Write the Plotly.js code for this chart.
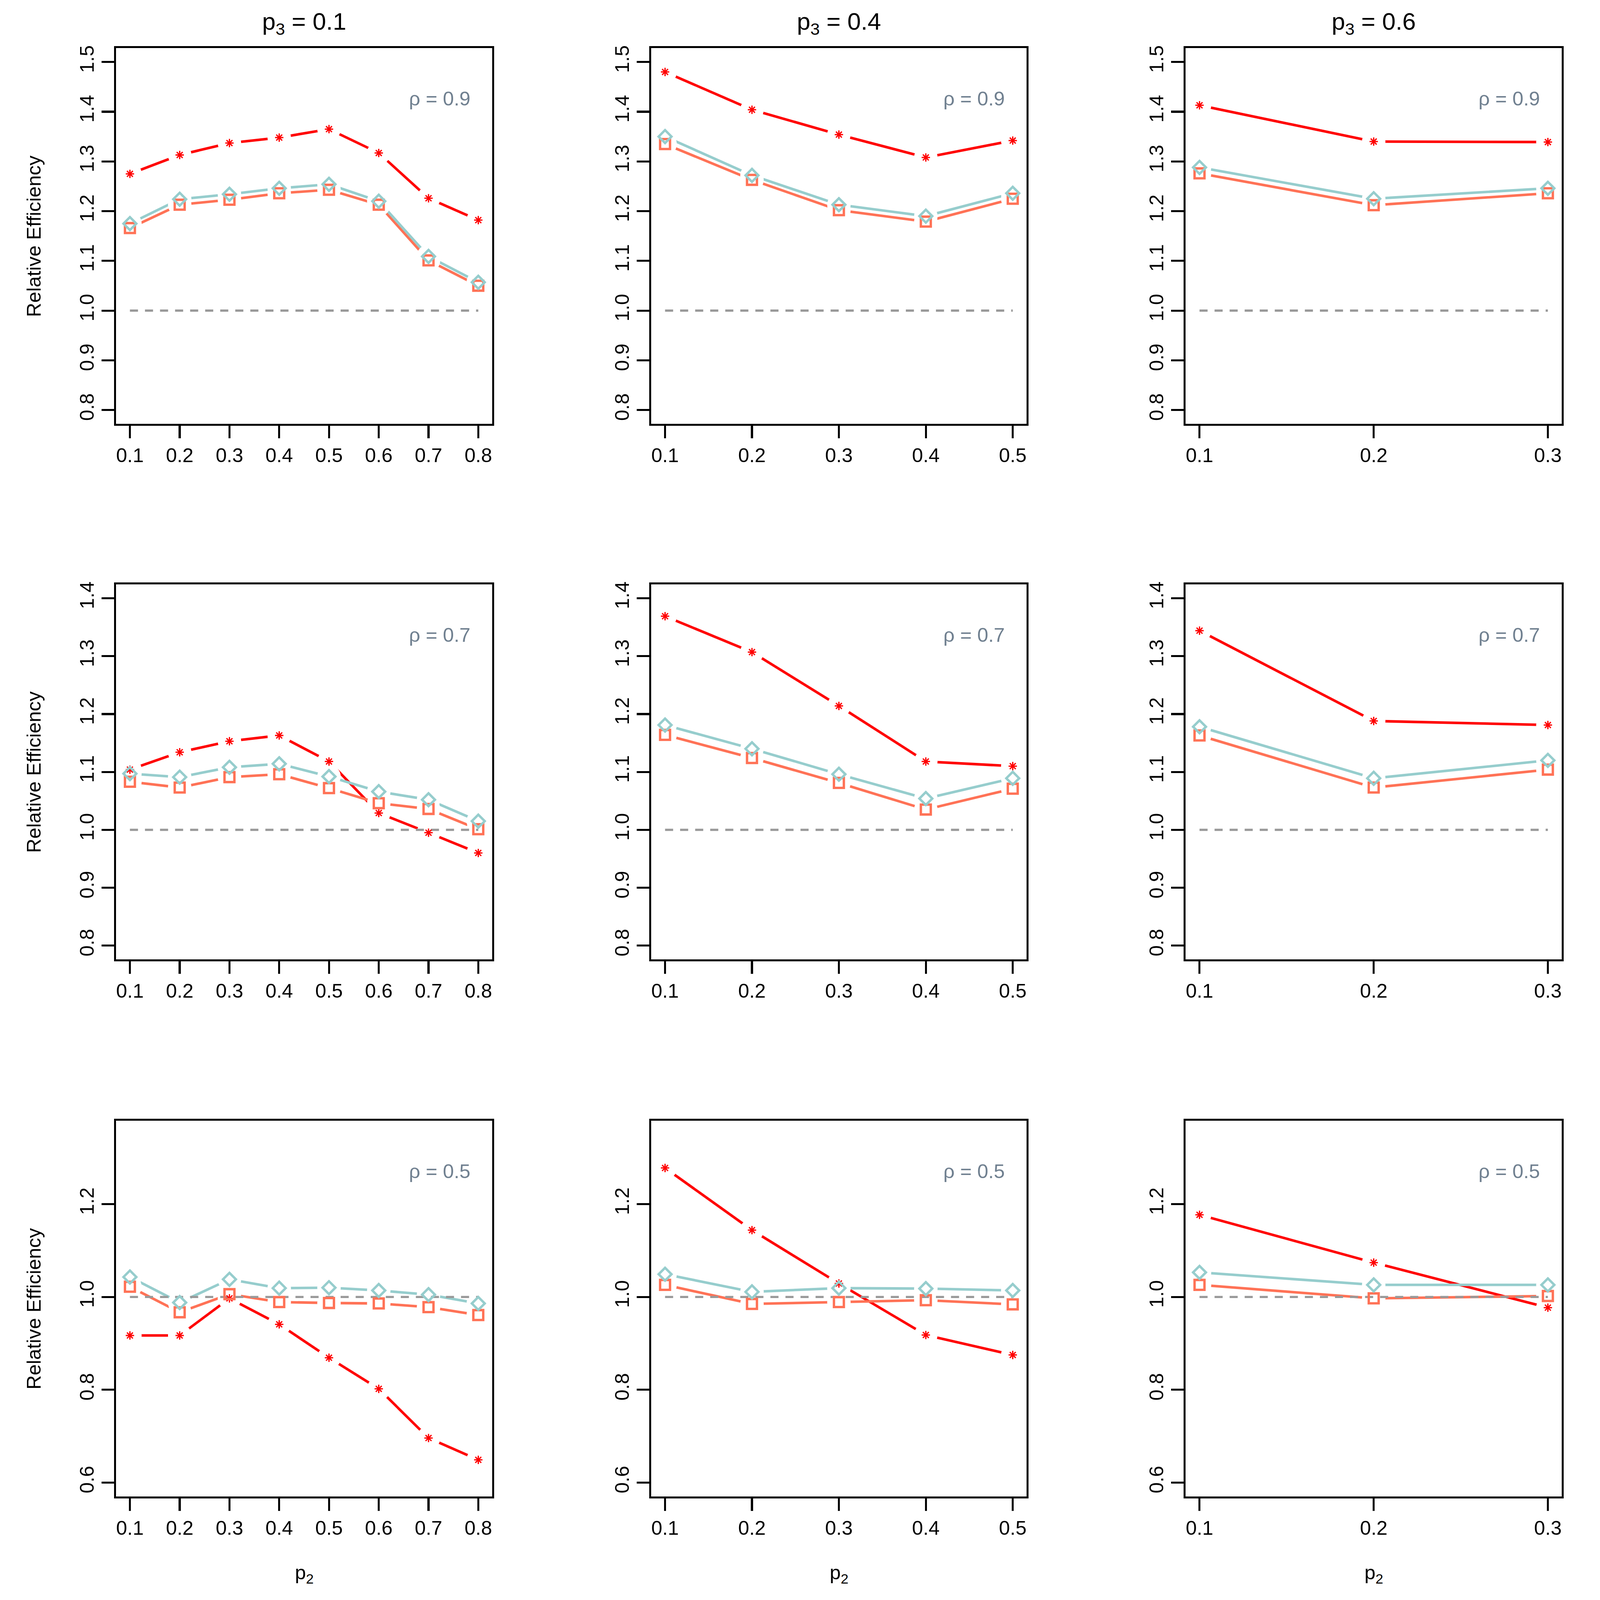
<!DOCTYPE html>
<html>
<head>
<meta charset="utf-8">
<script src="https://cdn.plot.ly/plotly-3.0.1.min.js"></script>
<style>html,body{margin:0;padding:0;background:#fff;overflow:hidden;}#chart{margin:0;padding:0;}</style>
</head>
<body>
<div id="chart"></div>
<script>
// ---- data ----
const p2_p3_01 = [0.1, 0.2, 0.3, 0.4, 0.5, 0.6, 0.7, 0.8];
const p2_p3_04 = [0.1, 0.2, 0.3, 0.4, 0.5];
const p2_p3_06 = [0.1, 0.2, 0.3];
const p3_labels = ['0.1', '0.4', '0.6'];
const rho_labels = ['0.9', '0.7', '0.5'];

// rho = 0.9
const star_r09_p01    = [1.275, 1.313, 1.337, 1.348, 1.365, 1.317, 1.226, 1.182];
const diamond_r09_p01 = [1.175, 1.224, 1.234, 1.246, 1.254, 1.220, 1.109, 1.057];
const square_r09_p01  = [1.166, 1.213, 1.223, 1.236, 1.243, 1.213, 1.101, 1.050];
const star_r09_p04    = [1.480, 1.404, 1.354, 1.308, 1.342];
const diamond_r09_p04 = [1.350, 1.272, 1.213, 1.190, 1.236];
const square_r09_p04  = [1.335, 1.263, 1.202, 1.179, 1.225];
const star_r09_p06    = [1.413, 1.340, 1.339];
const diamond_r09_p06 = [1.288, 1.225, 1.246];
const square_r09_p06  = [1.276, 1.212, 1.236];
// rho = 0.7
const star_r07_p01    = [1.104, 1.134, 1.153, 1.163, 1.118, 1.029, 0.995, 0.960];
const diamond_r07_p01 = [1.097, 1.091, 1.108, 1.114, 1.092, 1.066, 1.052, 1.015];
const square_r07_p01  = [1.083, 1.073, 1.091, 1.096, 1.072, 1.046, 1.036, 1.001];
const star_r07_p04    = [1.369, 1.307, 1.214, 1.118, 1.110];
const diamond_r07_p04 = [1.181, 1.140, 1.096, 1.054, 1.089];
const square_r07_p04  = [1.164, 1.124, 1.081, 1.035, 1.071];
const star_r07_p06    = [1.344, 1.188, 1.181];
const diamond_r07_p06 = [1.178, 1.089, 1.120];
const square_r07_p06  = [1.163, 1.073, 1.104];
// rho = 0.5
const star_r05_p01    = [0.917, 0.917, 0.997, 0.941, 0.869, 0.802, 0.696, 0.649];
const diamond_r05_p01 = [1.043, 0.988, 1.038, 1.019, 1.020, 1.014, 1.005, 0.986];
const square_r05_p01  = [1.022, 0.967, 1.006, 0.989, 0.987, 0.986, 0.978, 0.961];
const star_r05_p04    = [1.278, 1.144, 1.029, 0.918, 0.875];
const diamond_r05_p04 = [1.049, 1.011, 1.019, 1.018, 1.014];
const square_r05_p04  = [1.026, 0.985, 0.989, 0.993, 0.984];
const star_r05_p06    = [1.177, 1.074, 0.977];
const diamond_r05_p06 = [1.053, 1.026, 1.026];
const square_r05_p06  = [1.026, 0.997, 1.002];

const yticks_r09 = [0.8, 0.9, 1.0, 1.1, 1.2, 1.3, 1.4, 1.5];
const yticks_r07 = [0.8, 0.9, 1.0, 1.1, 1.2, 1.3, 1.4];
const yticks_r05 = [0.6, 0.8, 1.0, 1.2];
const reference_level = 1.0;

// ---- layout geometry / styles ----
const W0 = 4342, H0 = 4359;
const vw = window.innerWidth || W0, vh = window.innerHeight || H0;
const k = Math.min(1, vw / W0, vh / H0);
const W = Math.floor(W0 * k), H = Math.floor(H0 * k);
const px = v => v * k;

const FONT = 'Liberation Sans, Arial, Helvetica, sans-serif';
const RED = '#FF0000', CORAL = '#FF7256', TEAL = '#96CDCD', GREY = '#999999', SLATE = '#708090';
const colPx = [[316, 1341], [1774, 2797], [3230, 4255]];
const rowPx = [[131, 1155], [1592, 2614], [3053, 4077]];
const xRanges = [[0.072, 0.828], [0.084, 0.516], [0.092, 0.308]];
const yRanges = [[0.772, 1.528], [0.776, 1.424], [0.57, 1.38]];

const xs = [p2_p3_01, p2_p3_04, p2_p3_06];
const yt = [yticks_r09, yticks_r07, yticks_r05];
const stars = [[star_r09_p01, star_r09_p04, star_r09_p06], [star_r07_p01, star_r07_p04, star_r07_p06], [star_r05_p01, star_r05_p04, star_r05_p06]];
const squares = [[square_r09_p01, square_r09_p04, square_r09_p06], [square_r07_p01, square_r07_p04, square_r07_p06], [square_r05_p01, square_r05_p04, square_r05_p06]];
const diamonds = [[diamond_r09_p01, diamond_r09_p04, diamond_r09_p06], [diamond_r07_p01, diamond_r07_p04, diamond_r07_p06], [diamond_r05_p01, diamond_r05_p04, diamond_r05_p06]];

const traces = [];
const layout = {
  width: W, height: H,
  margin: {l: 0, r: 0, t: 0, b: 0, pad: 0},
  paper_bgcolor: '#ffffff', plot_bgcolor: '#ffffff',
  showlegend: false,
  font: {family: FONT, color: '#000000', size: px(54)},
  annotations: []
};

function axBase() {
  return {
    ticks: 'outside', ticklen: px(34), tickwidth: px(5.5), tickcolor: '#000000',
    showline: true, linewidth: px(5.5), linecolor: '#000000', mirror: true,
    showgrid: false, zeroline: false, fixedrange: true,
    tickfont: {family: FONT, size: px(54), color: '#000000'}
  };
}

for (let r = 0; r < 3; r++) {
  for (let c = 0; c < 3; c++) {
    const idx = r * 3 + c + 1;
    const xa = idx === 1 ? 'x' : 'x' + idx;
    const ya = idx === 1 ? 'y' : 'y' + idx;
    const xk = idx === 1 ? 'xaxis' : 'xaxis' + idx;
    const yk = idx === 1 ? 'yaxis' : 'yaxis' + idx;
    const x = xs[c];
    const st = stars[r][c], sq = squares[r][c], dm = diamonds[r][c];

    const xax = axBase();
    xax.domain = [colPx[c][0] / W0, colPx[c][1] / W0];
    xax.range = xRanges[c];
    xax.tickvals = x;
    xax.ticktext = x.map(v => v.toFixed(1));
    xax.anchor = ya;
    xax.ticklabelstandoff = px(50);
    const yax = axBase();
    yax.domain = [1 - rowPx[r][1] / H0, 1 - rowPx[r][0] / H0];
    yax.range = yRanges[r];
    yax.tickvals = yt[r];
    yax.ticktext = yt[r].map(v => v.toFixed(1));
    yax.tickangle = -90;
    yax.anchor = xa;
    yax.ticklabelstandoff = px(36);
    layout[xk] = xax;
    layout[yk] = yax;

    const base = {xaxis: xa, yaxis: ya, hoverinfo: 'skip'};
    // connecting lines
    traces.push(Object.assign({x: x, y: st, mode: 'lines', line: {color: RED, width: px(7)}}, base));
    traces.push(Object.assign({x: x, y: sq, mode: 'lines', line: {color: CORAL, width: px(7)}}, base));
    traces.push(Object.assign({x: x, y: dm, mode: 'lines', line: {color: TEAL, width: px(7)}}, base));
    // gaps around points (type = "b" look)
    traces.push(Object.assign({x: x.concat(x, x), y: st.concat(sq, dm), mode: 'markers',
      marker: {symbol: 'circle', size: px(64), color: '#ffffff', line: {width: 0}}}, base));
    // reference line
    traces.push(Object.assign({x: x, y: x.map(() => reference_level), mode: 'lines',
      line: {color: GREY, width: px(6), dash: px(22) + 'px,' + px(19) + 'px'}}, base));
    // point symbols
    traces.push(Object.assign({x: x, y: st, mode: 'markers',
      marker: {symbol: 'asterisk-open', size: px(19), color: RED, line: {color: RED, width: px(3.5)}}}, base));
    traces.push(Object.assign({x: x, y: sq, mode: 'markers',
      marker: {symbol: 'square-open', size: px(27), color: CORAL, line: {color: CORAL, width: px(6.5)}}}, base));
    traces.push(Object.assign({x: x, y: dm, mode: 'markers',
      marker: {symbol: 'diamond-open', size: px(27), color: TEAL, line: {color: TEAL, width: px(6.5)}}}, base));

    // rho label
    layout.annotations.push({
      xref: xa + ' domain', yref: ya + ' domain', x: 0.86, y: 0.865,
      xanchor: 'center', yanchor: 'middle', showarrow: false,
      text: '\u03C1 = ' + rho_labels[r],
      font: {family: FONT, size: px(54), color: SLATE}
    });
  }
}

// column titles, x labels, y labels
for (let c = 0; c < 3; c++) {
  const cx = (colPx[c][0] + colPx[c][1]) / 2 / W0;
  layout.annotations.push({
    xref: 'paper', yref: 'paper', x: cx, y: 1 - 63 / H0, xanchor: 'center', yanchor: 'middle',
    showarrow: false, text: 'p<sub>3</sub> = ' + p3_labels[c],
    font: {family: FONT, size: px(66), color: '#000000'}
  });
  layout.annotations.push({
    xref: 'paper', yref: 'paper', x: cx, y: 1 - 4288 / H0, xanchor: 'center', yanchor: 'middle',
    showarrow: false, text: 'p<sub>2</sub>',
    font: {family: FONT, size: px(54), color: '#000000'}
  });
}
for (let r = 0; r < 3; r++) {
  const cy = 1 - (rowPx[r][0] + rowPx[r][1]) / 2 / H0;
  layout.annotations.push({
    xref: 'paper', yref: 'paper', x: 92 / W0, y: cy, xanchor: 'center', yanchor: 'middle',
    showarrow: false, text: 'Relative Efficiency', textangle: -90,
    font: {family: FONT, size: px(54), color: '#000000'}
  });
}

Plotly.newPlot('chart', traces, layout, {staticPlot: true, displayModeBar: false});
</script>
</body>
</html>
